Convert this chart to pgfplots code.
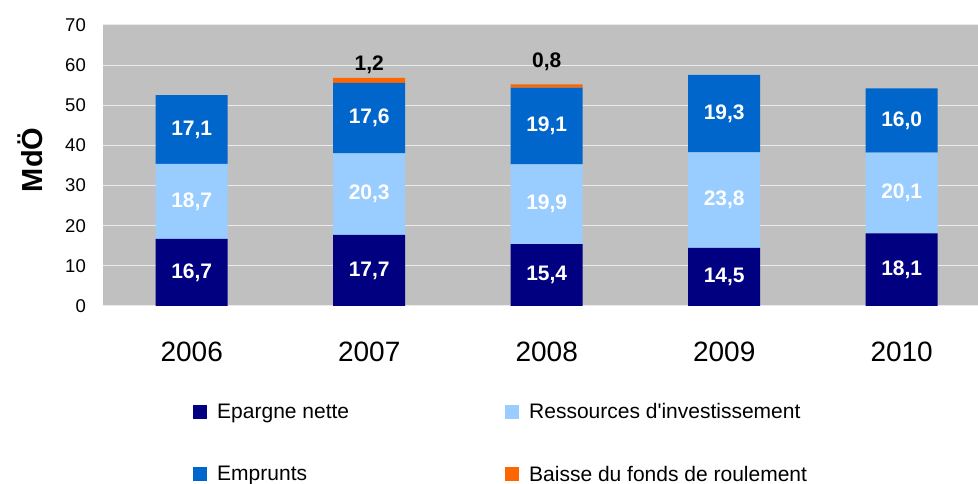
\documentclass[border=0pt]{standalone}
\usepackage{fontspec}
\setmainfont{Liberation Sans}
\usepackage{pgfplots}
\usepackage{pgfplotstable}
\pgfplotsset{compat=1.18}
\definecolor{epc}{HTML}{000080}
\definecolor{resc}{HTML}{99CCFF}
\definecolor{empc}{HTML}{0066CC}
\definecolor{baic}{HTML}{FF6600}
\definecolor{bgc}{HTML}{C0C0C0}
\pgfplotstableread{
x ep res emp bai
0 16.7 18.7 17.1 0
1 17.7 20.3 17.6 1.2
2 15.4 19.9 19.1 0.8
3 14.5 23.8 19.3 0
4 18.1 20.1 16.0 0
}\datatab
\pgfplotstableread{
x y lab
0 8.35 16,7
0 26.05 18,7
0 43.95 17,1
1 8.85 17,7
1 27.85 20,3
1 46.8 17,6
2 7.7 15,4
2 25.35 19,9
2 44.85 19,1
3 7.25 14,5
3 26.4 23,8
3 47.95 19,3
4 9.05 18,1
4 28.15 20,1
4 46.2 16,0
}\labtab
\pgfplotstableread{
x y lab
1 60.0 1,2
2 60.8 0,8
}\toptab
\begin{document}
\begin{tikzpicture}
\useasboundingbox (-103pt,-178pt) rectangle (875pt,306pt);
\pgfplotsset{base/.style={scale only axis, width=875pt, height=281pt,
  xmin=-0.5, xmax=4.43, ymin=0, ymax=70, at={(0pt,0pt)}, anchor=south west}}
\begin{axis}[base, ybar stacked, bar width=72pt,
  axis background/.style={fill=bgc},
  axis line style={draw=none},
  major tick length=0pt,
  ymajorgrids, grid style={white!92!black, line width=1pt},
  ytick={0,10,...,70},
  xtick={0,1,2,3,4}, xticklabels={2006,2007,2008,2009,2010},
  /pgf/number format/assume math mode=true,
  yticklabel style={font=\fontsize{18.5}{20}\selectfont, inner sep=0pt, xshift=-17pt},
  xticklabel style={font=\fontsize{28}{30}\selectfont, inner sep=0pt, yshift=-36pt},
  ylabel={MdÖ},
  ylabel style={font=\fontsize{29}{32}\selectfont\bfseries, at={(axis description cs:-0.0834,0.52)}, anchor=center},
  legend columns=2,
  legend image code/.code={\fill[#1] (0pt,-7pt) rectangle (14pt,7pt);},
  legend style={at={(axis description cs:0.1029,-0.3395)}, anchor=north west,
    draw=none, fill=none, inner sep=0pt,
    font=\fontsize{21}{24}\selectfont,
    row sep=41.5pt,
    /tikz/every odd column/.append style={column sep=8pt},
    /tikz/every even column/.append style={column sep=154pt}},
  legend cell align=left,
]
\addplot[fill=epc, draw=none] table[x=x, y=ep] {\datatab};
\addlegendentry{Epargne nette}
\addplot[fill=resc, draw=none] table[x=x, y=res] {\datatab};
\addlegendentry{Ressources d\textquotesingle investissement}
\addplot[fill=empc, draw=none] table[x=x, y=emp] {\datatab};
\addlegendentry{Emprunts}
\addplot[fill=baic, draw=none] table[x=x, y=bai] {\datatab};
\addlegendentry{Baisse du fonds de roulement}
\end{axis}
\begin{axis}[base, hide axis]
\addplot[draw=none, mark=none, nodes near coords, point meta=explicit symbolic,
  nodes near coords style={font=\fontsize{21}{23}\selectfont\bfseries, text=white, anchor=center}]
  table[x=x, y=y, meta=lab] {\labtab};
\addplot[draw=none, mark=none, nodes near coords, point meta=explicit symbolic,
  nodes near coords style={font=\fontsize{21}{23}\selectfont\bfseries, text=black, anchor=center}]
  table[x=x, y=y, meta=lab] {\toptab};
\end{axis}
\end{tikzpicture}
\end{document}
